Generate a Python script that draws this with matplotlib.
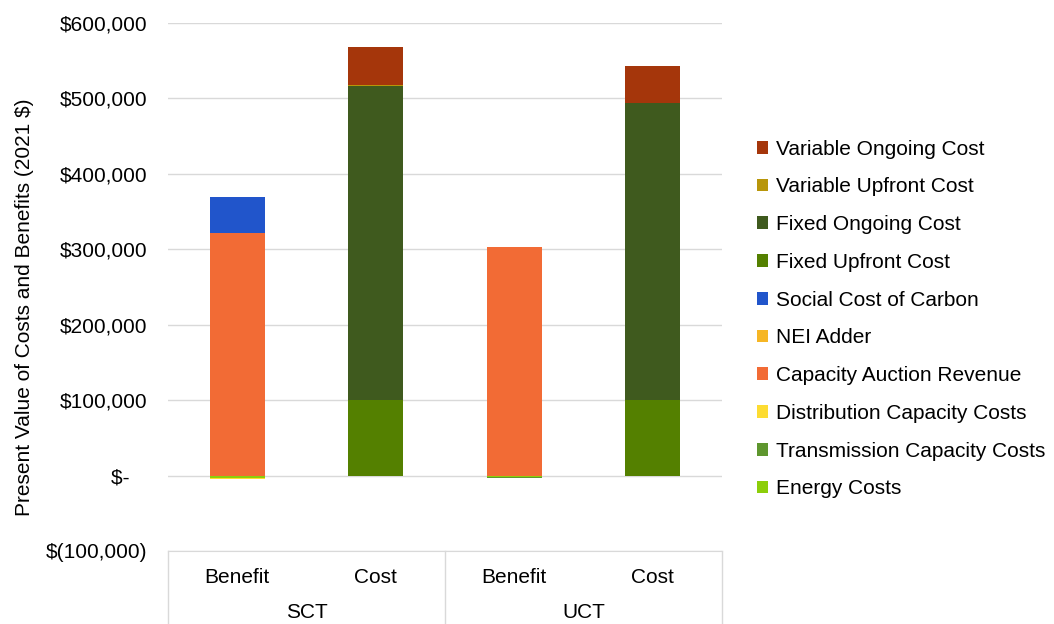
import matplotlib
matplotlib.use("Agg")
import matplotlib.pyplot as plt
import numpy as np
from matplotlib.lines import Line2D

plt.rcParams['font.family'] = ['Liberation Sans', 'DejaVu Sans']

bars = ["Benefit", "Cost", "Benefit", "Cost"]
groups = ["SCT", "UCT"]

series = [
    "Energy Costs",
    "Transmission Capacity Costs",
    "Distribution Capacity Costs",
    "Capacity Auction Revenue",
    "NEI Adder",
    "Social Cost of Carbon",
    "Fixed Upfront Cost",
    "Fixed Ongoing Cost",
    "Variable Upfront Cost",
    "Variable Ongoing Cost",
]
colors = ["#8CCE0A", "#5E962E", "#FDDC32", "#F26B35", "#F6B625",
          "#2155CB", "#548000", "#3F5A1E", "#B8960A", "#A5360B"]

energy_costs = [-3000, 0, -2500, 0]
transmission_costs = [-500, 0, -300, 0]
distribution_costs = [-1500, 0, -200, 0]
capacity_auction = [321000, 0, 303000, 0]
nei_adder = [0, 0, 0, 0]
social_cost_carbon = [48000, 0, 0, 0]
fixed_upfront = [0, 100000, 0, 100000]
fixed_ongoing = [0, 416000, 0, 394000]
variable_upfront = [0, 2000, 0, 500]
variable_ongoing = [0, 50000, 0, 49000]

data = [energy_costs, transmission_costs, distribution_costs, capacity_auction,
        nei_adder, social_cost_carbon, fixed_upfront, fixed_ongoing,
        variable_upfront, variable_ongoing]

FS = 15

fig = plt.figure(figsize=(10.54, 6.24), dpi=100)
ax = fig.add_axes([168/1054, 1-551/624, (722-168)/1054, (551-23)/624])

x = np.arange(len(bars))
pos_bottom = np.zeros(len(bars))
neg_bottom = np.zeros(len(bars))
handles = []
for name, vals, c in zip(series, data, colors):
    vals = np.array(vals, dtype=float)
    bottom = np.where(vals >= 0, pos_bottom, neg_bottom)
    h = ax.bar(x, vals, width=0.4, bottom=bottom, color=c, label=name, zorder=3)
    handles.append(h)
    pos_bottom += np.where(vals >= 0, vals, 0)
    neg_bottom += np.where(vals < 0, vals, 0)

ax.set_xlim(-0.5, 3.5)
ax.set_ylim(-100000, 600000)
ticks = np.arange(-100000, 600001, 100000)
ax.set_yticks(ticks)

def fmt(v):
    if v == 0:
        return "$-   "
    if v < 0:
        return "$(" + f"{-v:,.0f}" + ")"
    return "$" + f"{v:,.0f}"
ax.set_yticklabels([fmt(v) for v in ticks], fontsize=FS)
ax.tick_params(axis='y', length=0, pad=15)
ax.tick_params(axis='x', length=0, labelbottom=False)
ax.grid(axis='y', color='#D9D9D9', linewidth=1, zorder=0)
for s in ['top', 'right', 'left']:
    ax.spines[s].set_visible(False)
ax.spines['bottom'].set_color('#D9D9D9')
ax.set_ylabel("Present Value of Costs and Benefits (2021 $)", fontsize=FS)
ax.yaxis.set_label_coords(-0.242, 0.462)

# multi-level category axis
trans = ax.get_xaxis_transform()
for xv in [-0.5, 1.5, 3.5]:
    ax.add_line(Line2D([xv, xv], [0, -0.2], transform=trans, color='#D9D9D9',
                       linewidth=1, clip_on=False))
for xi, lab in zip(x, bars):
    ax.text(xi, -0.05, lab, transform=trans, ha='center', va='center', fontsize=FS)
for gi, g in enumerate(groups):
    ax.text(0.5 + 2 * gi, -0.117, g, transform=trans, ha='center', va='center', fontsize=FS)

leg = fig.legend(handles=handles[::-1], labels=series[::-1], loc='center left',
                 bbox_to_anchor=(757/1054, 1-319/624), frameon=False, fontsize=FS,
                 handlelength=0.55, handleheight=0.55, handletextpad=0.35,
                 labelspacing=0.9, borderaxespad=0, borderpad=0)

fig.savefig("out.png", dpi=100)
